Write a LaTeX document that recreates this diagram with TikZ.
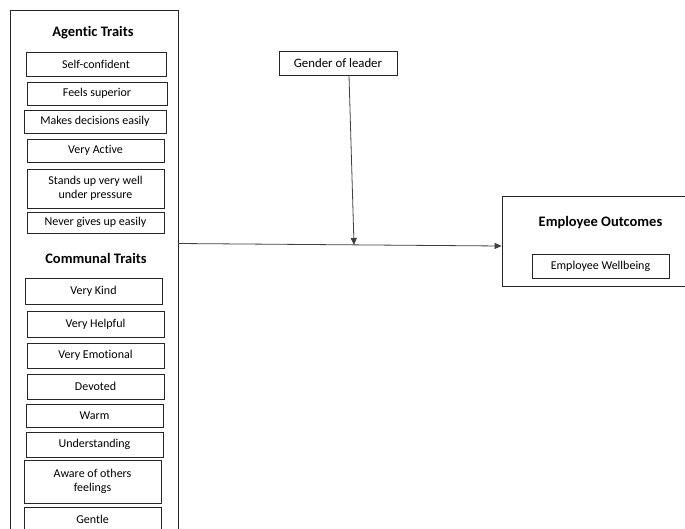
\documentclass[tikz,border=0pt]{standalone}
\usepackage{fontspec}
\setmainfont{Carlito}[Ligatures=NoCommon]
\usetikzlibrary{arrows.meta,calc}
\tikzset{
  box/.style={draw=black!85, line width=0.8pt, inner sep=0pt, align=center, font=\fontsize{12}{14}\selectfont},
  cont/.style={draw=black!85, line width=0.8pt, inner sep=0pt},
  title/.style={inner sep=0pt, font=\fontsize{14.5}{17}\selectfont\bfseries},
  arr/.style={draw=black!75, line width=0.8pt, -{Triangle[length=7pt,width=6pt]}},
}
\begin{document}
\begin{tikzpicture}[x=1pt,y=-1pt]
\useasboundingbox (0,0) rectangle (685,528);
\clip (0,0) rectangle (685,528);
% outer container
\node[cont, minimum width=168pt, minimum height=560pt] (outer) at (94,290) {};
\node[title] (ag) at (93,33) {Agentic Traits};
\node[box, minimum width=140pt, minimum height=24pt] (a1) at (96,64) {Self-confident};
\node[box, minimum width=140pt, minimum height=23pt] (a2) at (97,93.5) {Feels superior};
\node[box, minimum width=142pt, minimum height=23pt] (a3) at (95,121.5) {Makes decisions easily};
\node[box, minimum width=137pt, minimum height=23pt] (a4) at (95.5,150.5) {Very Active};
\node[box, minimum width=137pt, minimum height=39pt] (a5) at (95.5,188.5) {Stands up very well\\under pressure};
\node[box, minimum width=137pt, minimum height=21pt] (a6) at (95.5,222.5) {Never gives up easily};
\node[title] (co) at (96,258) {Communal Traits};
\node[box, minimum width=137pt, minimum height=26pt] (c1) at (93.5,291) {Very Kind};
\node[box, minimum width=137pt, minimum height=26pt] (c2) at (95.5,324) {Very Helpful};
\node[box, minimum width=137pt, minimum height=25pt] (c3) at (95.5,355.5) {Very Emotional};
\node[box, minimum width=137pt, minimum height=25pt] (c4) at (95.5,386.5) {Devoted};
\node[box, minimum width=137pt, minimum height=23pt] (c5) at (94.5,415.5) {Warm};
\node[box, minimum width=137pt, minimum height=25pt] (c6) at (94.5,444.5) {Understanding};
\node[box, minimum width=137pt, minimum height=43pt] (c7) at (92.5,481.5) {Aware of others\\feelings};
\node[box, minimum width=137pt, minimum height=36pt] (c8) at (92.5,525) {};
\node[font=\fontsize{12}{14}\selectfont, inner sep=0pt] (c8t) at (92.5,519) {Gentle};
% moderator
\node[box, minimum width=118pt, minimum height=24pt, font=\fontsize{12.8}{15}\selectfont] (gen) at (338,63) {Gender of leader};
% outcomes
\node[cont, minimum width=185pt, minimum height=90pt] (out) at (594.5,241) {};
\node[title] (ot) at (600.5,223) {Employee Outcomes};
\node[box, minimum width=137pt, minimum height=24pt] (ew) at (600.5,266) {Employee Wellbeing};
% connectors
\coordinate (m) at (354,245);
\draw[arr] (outer.north east |- 0,243.5) -- (out.west |- 0,246);
\draw[arr] ($(gen.south)+(11,0)$) -- (m);
\end{tikzpicture}
\end{document}
